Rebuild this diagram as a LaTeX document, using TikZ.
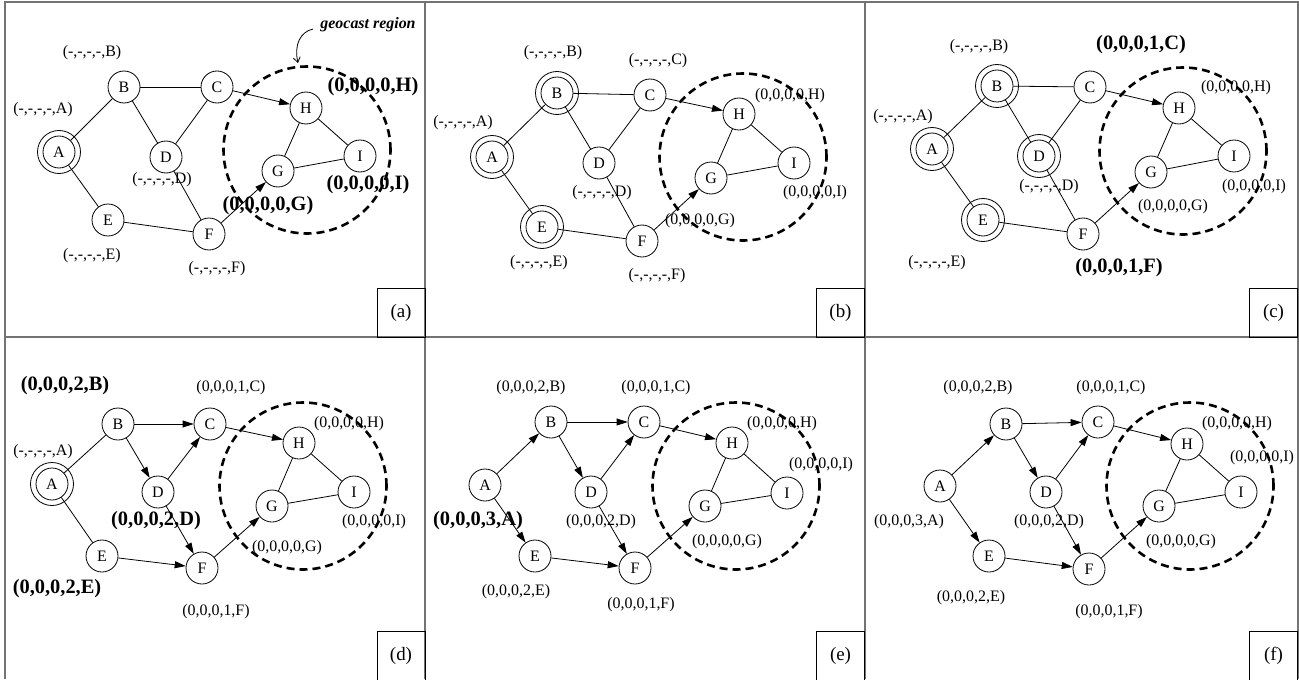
\documentclass[tikz,border=0pt]{standalone}
\usepackage{fontspec}
\setmainfont{Liberation Serif}
\usetikzlibrary{arrows.meta}
\tikzset{
  nd/.style={circle,draw,line width=0.8bp,minimum size=32bp,inner sep=0pt,font=\fontsize{16}{18}\selectfont},
  ring/.style={line width=0.8bp},
  lb/.style={inner sep=0pt,font=\fontsize{16}{18}\selectfont},
  bl/.style={inner sep=0pt,font=\bfseries\fontsize{20.5}{22}\selectfont},
  ed/.style={line width=0.8bp},
  ar/.style={ed,-{Triangle[length=11bp,width=7bp]}},
  geoc/.style={line width=2.6bp,dash pattern=on 8bp off 5bp},
  frame/.style={line width=1.5bp,black!55},
  tagbox/.style={draw,line width=0.8bp,minimum width=48bp,minimum height=49bp,inner sep=0pt,font=\fontsize{19}{21}\selectfont},
}
\begin{document}
\begin{tikzpicture}[x=1bp,y=-1bp]
\useasboundingbox (0,0) rectangle (1299,679);
% frame
\draw[frame] (5,679) -- (5,2) -- (1298,2) -- (1298,679);
\draw[frame] (425,2) -- (425,679);
\draw[frame] (865,2) -- (865,679);
\draw[frame] (5,337) -- (1298,337);

% ================= panel (a)
\node[nd] (aA) at (59,152) {A};
\draw[ring] (aA.center) circle[radius=21.5bp];
\node[nd] (aB) at (124,87) {B};
\node[nd] (aC) at (217,87) {C};
\node[nd] (aD) at (166,157) {D};
\node[nd] (aE) at (108,220) {E};
\node[nd] (aF) at (209,234) {F};
\node[nd] (aG) at (278,171) {G};
\node[nd] (aH) at (306,108) {H};
\node[nd] (aI) at (360,156) {I};
\draw[geoc] (307,150) circle[radius=83.5bp];
\draw[ed] (aA) -- (aB); \draw[ed] (aA) -- (aE); \draw[ed] (aB) -- (aC);
\draw[ed] (aB) -- (aD); \draw[ed] (aC) -- (aD); \draw[ed] (aD) -- (aF);
\draw[ed] (aE) -- (aF); \draw[ed] (aH) -- (aG); \draw[ed] (aH) -- (aI);
\draw[ed] (aG) -- (aI);
\draw[ar] (aC) -- (aH); \draw[ar] (aF) -- (aG);
\node[lb] (laB) at (92,53) {(-,-,-,-,B)};
\node[lb] (laA) at (43,110) {(-,-,-,-,A)};
\node[lb] (laD) at (162,180) {(-,-,-,-,D)};
\node[lb] (laE) at (92,256) {(-,-,-,-,E)};
\node[lb] (laF) at (217,269) {(-,-,-,-,F)};
\node[bl] (laG) at (268,206) {(0,0,0,0,G)};
\node[bl] (laH) at (373,87) {(0,0,0,0,H)};
\node[bl] (laI) at (368,185) {(0,0,0,0,I)};
\node[inner sep=0pt,font=\bfseries\itshape\fontsize{16}{18}\selectfont] (geo) at (368,25) {geocast region};
\coordinate (gs) at (313,29);
\coordinate (ge) at (298,63);
\draw[ed,-{Straight Barb[length=5bp,width=7bp]}] (gs) .. controls (300,32) and (294,45) .. (ge);
\node[tagbox] (ta) at (401,312.5) {(a)};

% ================= panel (b)
\node[nd] (bA) at (492,157) {A};
\draw[ring] (bA.center) circle[radius=21.5bp];
\node[nd] (bB) at (557,93) {B};
\draw[ring] (bB.center) circle[radius=21.5bp];
\node[nd] (bC) at (650,95) {C};
\node[nd] (bD) at (599,163) {D};
\node[nd] (bE) at (542,227) {E};
\draw[ring] (bE.center) circle[radius=21.5bp];
\node[nd] (bF) at (642,241) {F};
\node[nd] (bG) at (711,178) {G};
\node[nd] (bH) at (739,114) {H};
\node[nd] (bI) at (794,163) {I};
\draw[geoc] (743,157) circle[radius=83.5bp];
\draw[ed] (bA) -- (bB); \draw[ed] (bA) -- (bE); \draw[ed] (bB) -- (bC);
\draw[ed] (bB) -- (bD); \draw[ed] (bC) -- (bD); \draw[ed] (bD) -- (bF);
\draw[ed] (bE) -- (bF); \draw[ed] (bH) -- (bG); \draw[ed] (bH) -- (bI);
\draw[ed] (bG) -- (bI);
\draw[ar] (bC) -- (bH); \draw[ar] (bF) -- (bG);
\node[lb] (lbB) at (553,53) {(-,-,-,-,B)};
\node[lb] (lbC) at (658,61) {(-,-,-,-,C)};
\node[lb] (lbA) at (463,123) {(-,-,-,-,A)};
\node[lb] (lbH) at (790,96) {(0,0,0,0,H)};
\node[lb] (lbD) at (602,193) {(-,-,-,-,D)};
\node[lb] (lbG) at (700,221) {(0,0,0,0,G)};
\node[lb] (lbI) at (815,193) {(0,0,0,0,I)};
\node[lb] (lbE) at (539,263) {(-,-,-,-,E)};
\node[lb] (lbF) at (657,276) {(-,-,-,-,F)};
\node[tagbox] (tb) at (840.5,312.5) {(b)};

% ================= panel (c)
\node[nd] (cA) at (932,149) {A};
\draw[ring] (cA.center) circle[radius=21.5bp];
\node[nd] (cB) at (997,86) {B};
\draw[ring] (cB.center) circle[radius=21.5bp];
\node[nd] (cC) at (1090,87) {C};
\node[nd] (cD) at (1039,156) {D};
\draw[ring] (cD.center) circle[radius=21.5bp];
\node[nd] (cE) at (983,220) {E};
\draw[ring] (cE.center) circle[radius=21.5bp];
\node[nd] (cF) at (1083,234) {F};
\node[nd] (cG) at (1151,172) {G};
\node[nd] (cH) at (1179,108) {H};
\node[nd] (cI) at (1234,156) {I};
\draw[geoc] (1183,151) circle[radius=83.5bp];
\draw[ed] (cA) -- (cB); \draw[ed] (cA) -- (cE); \draw[ed] (cB) -- (cC);
\draw[ed] (cB) -- (cD); \draw[ed] (cC) -- (cD); \draw[ed] (cD) -- (cF);
\draw[ed] (cE) -- (cF); \draw[ed] (cH) -- (cG); \draw[ed] (cH) -- (cI);
\draw[ed] (cG) -- (cI);
\draw[ar] (cC) -- (cH); \draw[ar] (cF) -- (cG);
\node[lb] (lcB) at (979,47) {(-,-,-,-,B)};
\node[bl] (lcC) at (1141,45) {(0,0,0,1,C)};
\node[lb] (lcA) at (903,117) {(-,-,-,-,A)};
\node[lb] (lcH) at (1236,88) {(0,0,0,0,H)};
\node[lb] (lcD) at (1049,187) {(-,-,-,-,D)};
\node[lb] (lcI) at (1254,187) {(0,0,0,0,I)};
\node[lb] (lcG) at (1173,207) {(0,0,0,0,G)};
\node[lb] (lcE) at (937,263) {(-,-,-,-,E)};
\node[bl] (lcF) at (1119,268) {(0,0,0,1,F)};
\node[tagbox] (tc) at (1273.5,312.5) {(c)};

% ================= panel (d)
\node[nd] (dA) at (52,484) {A};
\draw[ring] (dA.center) circle[radius=21.5bp];
\node[nd] (dB) at (118,424) {B};
\node[nd] (dC) at (210,424) {C};
\node[nd] (dD) at (158,492) {D};
\node[nd] (dE) at (102,556) {E};
\node[nd] (dF) at (202,568) {F};
\node[nd] (dG) at (272,506) {G};
\node[nd] (dH) at (299,443) {H};
\node[nd] (dI) at (354,492) {I};
\draw[geoc] (303,486) circle[radius=83.5bp];
\draw[ed] (dA) -- (dB); \draw[ed] (dA) -- (dE);
\draw[ed] (dH) -- (dG); \draw[ed] (dH) -- (dI); \draw[ed] (dG) -- (dI);
\draw[ar] (dB) -- (dC); \draw[ar] (dB) -- (dD); \draw[ar] (dD) -- (dC);
\draw[ar] (dD) -- (dF); \draw[ar] (dE) -- (dF);
\draw[ar] (dC) -- (dH); \draw[ar] (dF) -- (dG);
\node[bl] (ldB) at (65,386) {(0,0,0,2,B)};
\node[lb] (ldC) at (231,388) {(0,0,0,1,C)};
\node[lb] (ldH) at (349,424) {(0,0,0,0,H)};
\node[lb] (ldA) at (43,452) {(-,-,-,-,A)};
\node[bl] (ldD) at (156,521) {(0,0,0,2,D)};
\node[lb] (ldI) at (374,522) {(0,0,0,0,I)};
\node[lb] (ldG) at (287,548) {(0,0,0,0,G)};
\node[bl] (ldE) at (57,589) {(0,0,0,2,E)};
\node[lb] (ldF) at (216,612) {(0,0,0,1,F)};
\node[tagbox] (td) at (401,655.5) {(d)};

% ================= panel (e)
\node[nd] (eA) at (485,485) {A};
\node[nd] (eB) at (551,422) {B};
\node[nd] (eC) at (644,422) {C};
\node[nd] (eD) at (591,492) {D};
\node[nd] (eE) at (535,556) {E};
\node[nd] (eF) at (635,568) {F};
\node[nd] (eG) at (705,506) {G};
\node[nd] (eH) at (732,443) {H};
\node[nd] (eI) at (787,493) {I};
\draw[geoc] (736,486) circle[radius=83.5bp];
\draw[ed] (eH) -- (eG); \draw[ed] (eH) -- (eI); \draw[ed] (eG) -- (eI);
\draw[ar] (eA) -- (eB); \draw[ar] (eA) -- (eE);
\draw[ar] (eB) -- (eC); \draw[ar] (eB) -- (eD); \draw[ar] (eD) -- (eC);
\draw[ar] (eD) -- (eF); \draw[ar] (eE) -- (eF);
\draw[ar] (eC) -- (eH); \draw[ar] (eF) -- (eG);
\node[lb] (leB) at (531,388) {(0,0,0,2,B)};
\node[lb] (leC) at (656,388) {(0,0,0,1,C)};
\node[lb] (leH) at (782,424) {(0,0,0,0,H)};
\node[lb] (leI) at (821,465) {(0,0,0,0,I)};
\node[bl] (leA) at (478,521) {(0,0,0,3,A)};
\node[lb] (leD) at (601,522) {(0,0,0,2,D)};
\node[lb] (leG) at (727,542) {(0,0,0,0,G)};
\node[lb] (leE) at (516,592) {(0,0,0,2,E)};
\node[lb] (leF) at (641,605) {(0,0,0,1,F)};
\node[tagbox] (te) at (840.5,655.5) {(e)};

% ================= panel (f)
\node[nd] (fA) at (940,486) {A};
\node[nd] (fB) at (1006,424) {B};
\node[nd] (fC) at (1098,422) {C};
\node[nd] (fD) at (1046,492) {D};
\node[nd] (fE) at (989,556) {E};
\node[nd] (fF) at (1089,569) {F};
\node[nd] (fG) at (1159,506) {G};
\node[nd] (fH) at (1187,444) {H};
\node[nd] (fI) at (1241,492) {I};
\draw[geoc] (1190,486) circle[radius=83.5bp];
\draw[ed] (fH) -- (fG); \draw[ed] (fH) -- (fI); \draw[ed] (fG) -- (fI);
\draw[ar] (fA) -- (fB); \draw[ar] (fA) -- (fE);
\draw[ar] (fB) -- (fC); \draw[ar] (fB) -- (fD); \draw[ar] (fD) -- (fC);
\draw[ar] (fD) -- (fF); \draw[ar] (fE) -- (fF);
\draw[ar] (fC) -- (fH); \draw[ar] (fF) -- (fG);
\node[lb] (lfB) at (978,388) {(0,0,0,2,B)};
\node[lb] (lfC) at (1111,388) {(0,0,0,1,C)};
\node[lb] (lfH) at (1237,424) {(0,0,0,0,H)};
\node[lb] (lfI) at (1262,458) {(0,0,0,0,I)};
\node[lb] (lfA) at (909,522) {(0,0,0,3,A)};
\node[lb] (lfD) at (1049,522) {(0,0,0,2,D)};
\node[lb] (lfG) at (1181,542) {(0,0,0,0,G)};
\node[lb] (lfE) at (971,598) {(0,0,0,2,E)};
\node[lb] (lfF) at (1109,612) {(0,0,0,1,F)};
\node[tagbox] (tf) at (1273.5,655.5) {(f)};
\end{tikzpicture}
\end{document}
